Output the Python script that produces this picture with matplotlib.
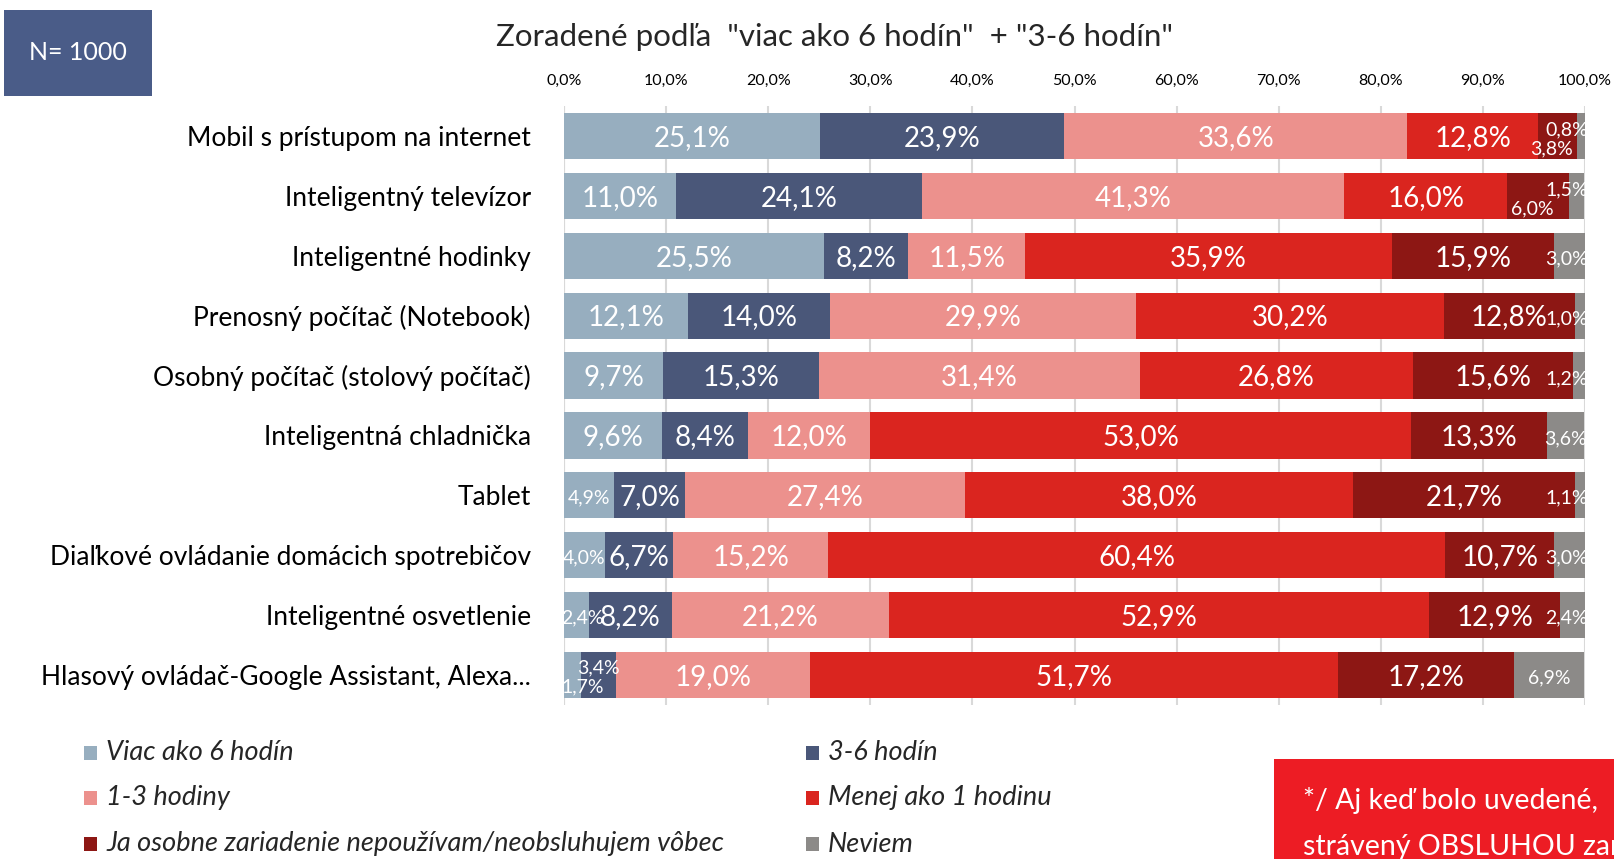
import matplotlib
matplotlib.use("Agg")
import matplotlib.pyplot as plt
from matplotlib.patches import Rectangle
import numpy as np

plt.rcParams['font.family'] = ['Lato', 'DejaVu Sans']

categories = [
    "Mobil s prístupom na internet",
    "Inteligentný televízor",
    "Inteligentné hodinky",
    "Prenosný počítač (Notebook)",
    "Osobný počítač (stolový počítač)",
    "Inteligentná chladnička",
    "Tablet",
    "Diaľkové ovládanie domácich spotrebičov",
    "Inteligentné osvetlenie",
    "Hlasový ovládač-Google Assistant, Alexa...",
]
series_names = [
    "Viac ako 6 hodín",
    "3-6 hodín",
    "1-3 hodiny",
    "Menej ako 1 hodinu",
    "Ja osobne zariadenie nepoužívam/neobsluhujem vôbec",
    "Neviem",
]
viac6 = [25.1, 11.0, 25.5, 12.1, 9.7, 9.6, 4.9, 4.0, 2.4, 1.7]
h3_6 = [23.9, 24.1, 8.2, 14.0, 15.3, 8.4, 7.0, 6.7, 8.2, 3.4]
h1_3 = [33.6, 41.3, 11.5, 29.9, 31.4, 12.0, 27.4, 15.2, 21.2, 19.0]
menej1 = [12.8, 16.0, 35.9, 30.2, 26.8, 53.0, 38.0, 60.4, 52.9, 51.7]
nepouzivam = [3.8, 6.0, 15.9, 12.8, 15.6, 13.3, 21.7, 10.7, 12.9, 17.2]
neviem = [0.8, 1.5, 3.0, 1.0, 1.2, 3.6, 1.1, 3.0, 2.4, 6.9]
xticks = [0, 10, 20, 30, 40, 50, 60, 70, 80, 90, 100]

colors = ["#97AEBF", "#4A5779", "#EC918D", "#DA251F", "#8D1714", "#8C8A88"]
series = [viac6, h3_6, h1_3, menej1, nepouzivam, neviem]

W, H = 1614, 859
fig = plt.figure(figsize=(W / 100, H / 100), dpi=100)
ax = fig.add_axes([564 / W, 1 - 705 / H, (1585 - 564) / W, (705 - 106) / H])

y = np.arange(len(categories))
left = np.zeros(len(categories))
for si, (vals, col, name) in enumerate(zip(series, colors, series_names)):
    vals = np.array(vals)
    ax.barh(y, vals, left=left, height=0.77, color=col, edgecolor='none', zorder=3, label=name)
    for i, v in enumerate(vals):
        c = left[i] + v / 2
        txt = f"{v:.1f}%".replace('.', ',')
        if v >= 6.5 and si != 5:
            ax.text(c, y[i] + 0.03, txt, ha='center', va='center', color='white', fontsize=20, zorder=5)
        else:
            dy = 0.05
            cx = min(max(c, 1.85), 98.2)
            if si == 5 and i in (0, 1):
                dy = -0.1
            if si == 4 and i in (0, 1):
                dy = 0.22
                cx = c - 0.6
            if si == 0 and i == 9:
                dy = 0.2
            if si == 1 and i == 9:
                dy = -0.12
            ax.text(cx, y[i] + dy, txt, ha='center', va='center', color='white', fontsize=14, zorder=5)
    left += vals

ax.set_xlim(0, 100)
ax.set_ylim(len(categories) - 0.5, -0.5)
ax.xaxis.tick_top()
ax.set_xticks(xticks)
ax.set_xticklabels([f"{t:.1f}%".replace('.', ',') for t in xticks], fontsize=11.5)
ax.tick_params(axis='x', length=0, pad=13)
ax.set_yticks(y)
ax.set_yticklabels(categories, fontsize=19)
ax.tick_params(axis='y', length=0, pad=24)
ax.grid(axis='x', color='#D9D9D9', linewidth=1.5, zorder=0)
for s in ax.spines.values():
    s.set_visible(False)
ax.axvline(0, color='#D9D9D9', linewidth=1.5, zorder=1)

# title
fig.text(835 / W, 1 - 37 / H, 'Zoradené podľa  "viac ako 6 hodín"  + "3-6 hodín"',
         ha='center', va='center', fontsize=22.5, color='#262626')

# N box
fig.patches.append(Rectangle((4 / W, 1 - 96 / H), 148 / W, 86 / H, transform=fig.transFigure,
                             facecolor='#4A5C88', edgecolor='none'))
fig.text(78 / W, 1 - 53 / H, 'N= 1000', ha='center', va='center', fontsize=18, color='white')

# legend
leg_pos = [(84, 753), (806, 753), (84, 798), (806, 798), (84, 844), (806, 844)]
for (lx, ly), name, col in zip(leg_pos, series_names, colors):
    fig.patches.append(Rectangle((lx / W, 1 - (ly + 7) / H), 13 / W, 14 / H, transform=fig.transFigure,
                                 facecolor=col, edgecolor='none'))
    fig.text((lx + 22) / W, 1 - ly / H, name, ha='left', va='center', fontsize=19.5,
             style='italic', color='#262626')

# red note box (cut off at the figure edge, as in the source)
fig.patches.append(Rectangle((1274 / W, 1 - 870 / H), 400 / W, 111 / H, transform=fig.transFigure,
                             facecolor='#ED1C24', edgecolor='none'))
fig.text(1303 / W, 1 - 801 / H, '*/ Aj keď bolo uvedené,', ha='left', va='center',
         fontsize=20.5, color='white')
fig.text(1303 / W, 1 - 847 / H, 'strávený OBSLUHOU zar', ha='left', va='center',
         fontsize=20.5, color='white')

fig.savefig('out.png', dpi=100)
